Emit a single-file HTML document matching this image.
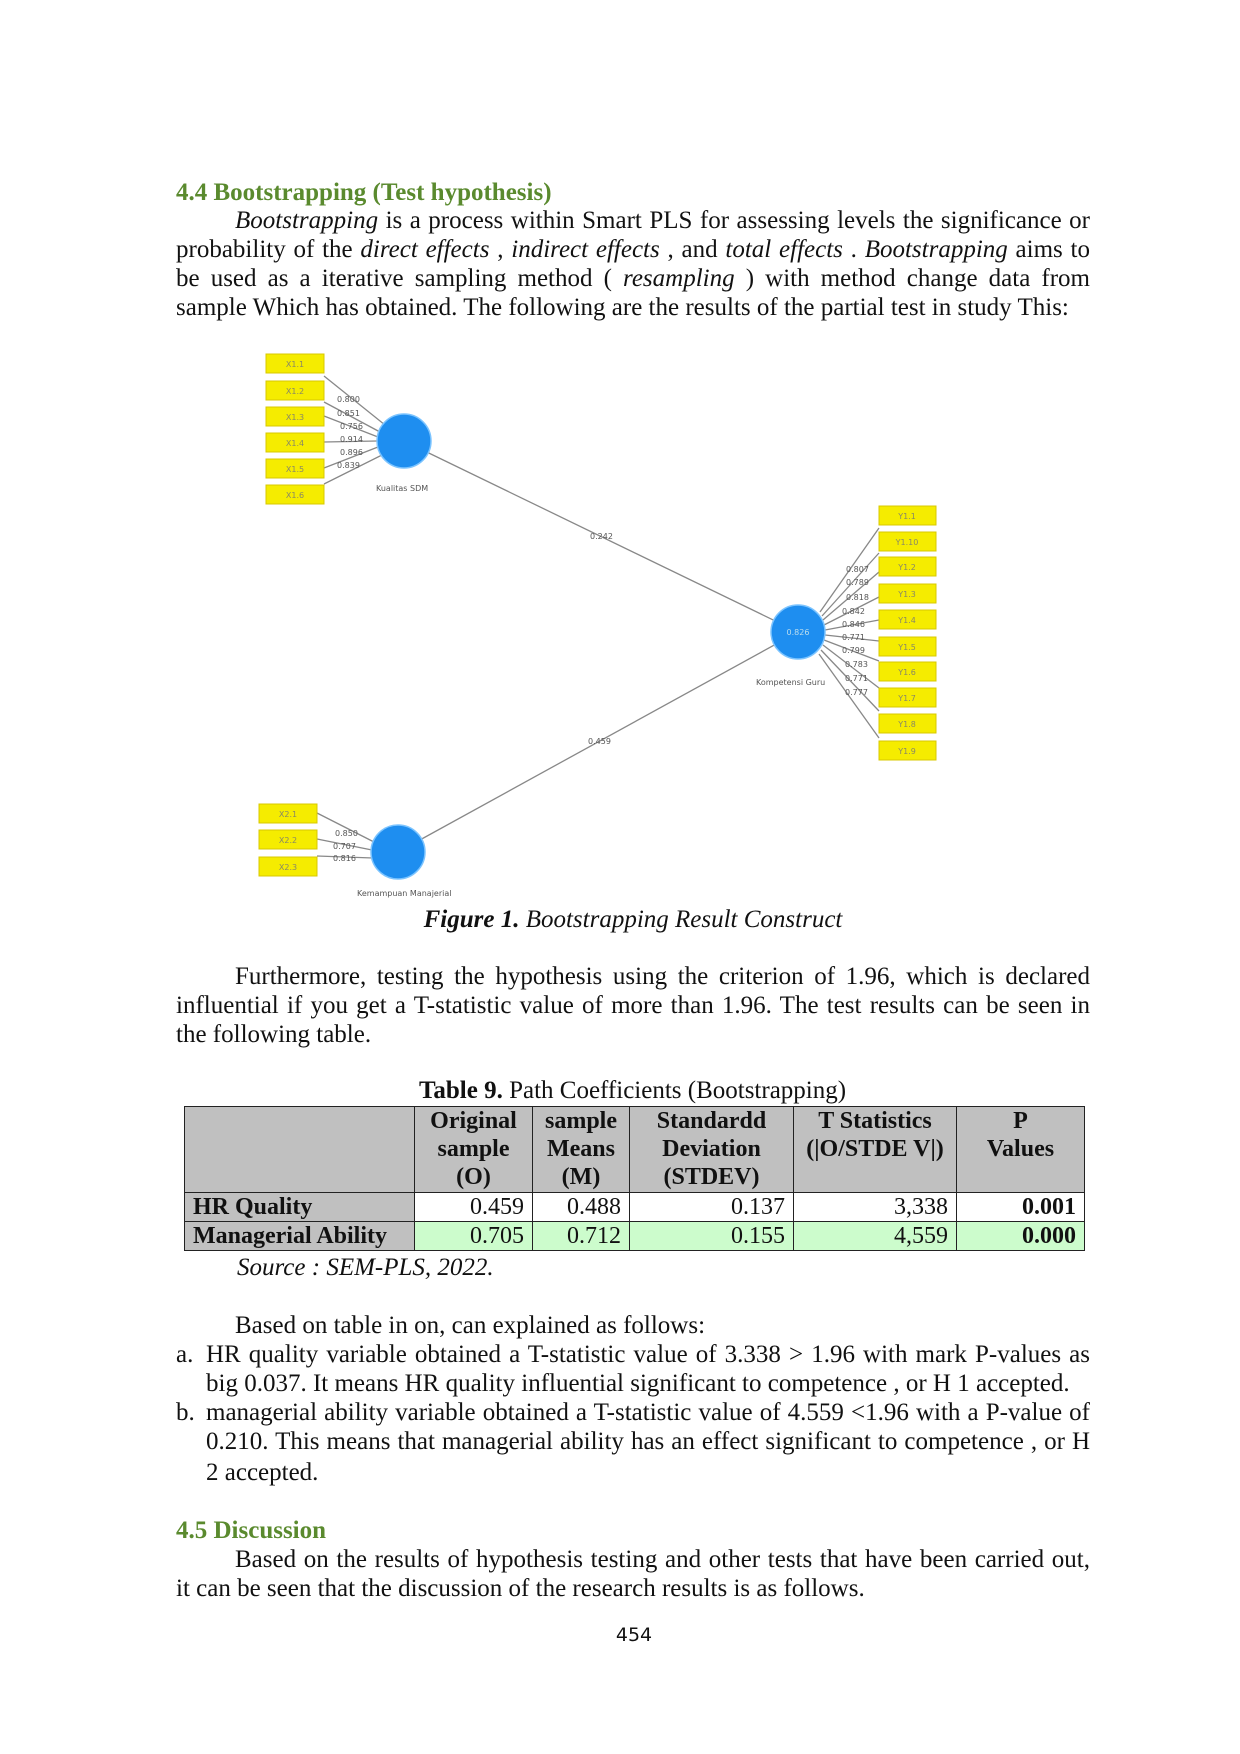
<!DOCTYPE html>
<html><head><meta charset="utf-8"><style>
body{margin:0;background:#fff;}
#p{position:relative;width:1240px;height:1754px;font-family:"Liberation Serif",serif;font-size:25px;color:#111;}
.l{position:absolute;left:176px;width:914px;white-space:nowrap;line-height:29px;}
.j{text-align:justify;text-align-last:justify;white-space:normal;}
.h{color:#5a8a2e;font-weight:bold;}
table{position:absolute;left:184px;top:1106px;width:901px;border-collapse:collapse;font-size:24px;line-height:28px;table-layout:fixed;}
td{border:1.5px solid #222;padding:0 8px;white-space:nowrap;overflow:hidden;}
th{border:1.5px solid #222;background:#c0c0c0;font-weight:bold;text-align:center;vertical-align:top;padding:0 2px;white-space:nowrap;overflow:hidden;}
.g{background:#c0c0c0;font-weight:bold;}
.gr{background:#ccfccc;}
.r{text-align:right;}
</style></head><body><div id="p">
<div class="l h" style="top:178px">4.4 Bootstrapping (Test hypothesis)</div>
<div class="l j" style="top:206px;padding-left:59px;width:855px"><i>Bootstrapping</i> is a process within Smart PLS for assessing levels the significance or</div>
<div class="l j" style="top:235px">probability of the <i>direct effects</i> , <i>indirect effects</i> , and <i>total effects</i> . <i>Bootstrapping</i> aims to</div>
<div class="l j" style="top:264px">be used as a iterative sampling method ( <i>resampling</i> ) with method change data from</div>
<div class="l" style="top:293px">sample Which has obtained. The following are the results of the partial test in study This:</div>

<svg style="position:absolute;left:0;top:0" width="1240" height="1000" font-family="DejaVu Sans,sans-serif">
<g stroke="#888" stroke-width="1.3">
<line x1="404" y1="441" x2="798" y2="632"/>
<line x1="398" y1="852" x2="798" y2="632"/>
<line x1="324" y1="376" x2="385" y2="425"/><line x1="324" y1="402" x2="380" y2="432"/><line x1="324" y1="416" x2="378" y2="437"/><line x1="324" y1="442" x2="377" y2="441"/><line x1="324" y1="468" x2="378" y2="447"/><line x1="324" y1="484" x2="382" y2="455"/>
<line x1="317" y1="813" x2="374" y2="842"/><line x1="317" y1="839" x2="372" y2="850"/><line x1="317" y1="856" x2="373" y2="858"/>
<line x1="820" y1="612" x2="879" y2="528"/><line x1="822" y1="616" x2="879" y2="553"/><line x1="823" y1="620" x2="879" y2="572"/><line x1="824" y1="625" x2="879" y2="597"/><line x1="825" y1="630" x2="879" y2="620"/><line x1="825" y1="635" x2="879" y2="641"/><line x1="824" y1="640" x2="879" y2="661"/><line x1="823" y1="645" x2="879" y2="688"/><line x1="821" y1="650" x2="879" y2="711"/><line x1="819" y1="654" x2="879" y2="738"/>
</g>
<g fill="#f5ec00" stroke="#d8c800" stroke-width="1">
<rect x="266" y="354" width="58" height="19"/><rect x="266" y="381" width="58" height="19"/><rect x="266" y="407" width="58" height="19"/><rect x="266" y="433" width="58" height="19"/><rect x="266" y="459" width="58" height="19"/><rect x="266" y="485" width="58" height="19"/>
<rect x="259" y="804" width="58" height="19"/><rect x="259" y="830" width="58" height="19"/><rect x="259" y="857" width="58" height="19"/>
<rect x="879" y="506" width="57" height="19"/><rect x="879" y="532" width="57" height="19"/><rect x="879" y="557" width="57" height="19"/><rect x="879" y="584" width="57" height="19"/><rect x="879" y="610" width="57" height="19"/><rect x="879" y="637" width="57" height="19"/><rect x="879" y="662" width="57" height="19"/><rect x="879" y="688" width="57" height="19"/><rect x="879" y="714" width="57" height="19"/><rect x="879" y="741" width="57" height="19"/>
</g>
<g font-size="8" fill="#886" text-anchor="middle">
<text x="295" y="367">X1.1</text><text x="295" y="394">X1.2</text><text x="295" y="420">X1.3</text><text x="295" y="446">X1.4</text><text x="295" y="472">X1.5</text><text x="295" y="498">X1.6</text>
<text x="288" y="817">X2.1</text><text x="288" y="843">X2.2</text><text x="288" y="870">X2.3</text>
<text x="907" y="519">Y1.1</text><text x="907" y="545">Y1.10</text><text x="907" y="570">Y1.2</text><text x="907" y="597">Y1.3</text><text x="907" y="623">Y1.4</text><text x="907" y="650">Y1.5</text><text x="907" y="675">Y1.6</text><text x="907" y="701">Y1.7</text><text x="907" y="727">Y1.8</text><text x="907" y="754">Y1.9</text>
</g>
<g font-size="8" fill="#555">
<text x="337" y="402">0.800</text><text x="337" y="416">0.851</text><text x="340" y="429">0.756</text><text x="340" y="442">0.914</text><text x="340" y="455">0.896</text><text x="337" y="468">0.839</text>
<text x="335" y="836">0.850</text><text x="333" y="849">0.707</text><text x="333" y="861">0.816</text>
<text x="846" y="572">0.807</text><text x="846" y="585">0.789</text><text x="846" y="600">0.818</text><text x="842" y="614">0.842</text><text x="842" y="627">0.846</text><text x="842" y="640">0.771</text><text x="842" y="653">0.799</text><text x="845" y="667">0.783</text><text x="845" y="681">0.771</text><text x="845" y="695">0.777</text>
<text x="590" y="539">0.242</text><text x="588" y="744">0.459</text>
<text x="376" y="491">Kualitas SDM</text><text x="756" y="685">Kompetensi Guru</text><text x="357" y="896">Kemampuan Manajerial</text>
</g>
<circle cx="404" cy="441" r="27" fill="#1e8ef0" stroke="#7cc4ff" stroke-width="1.5"/>
<circle cx="798" cy="632" r="27" fill="#1e8ef0" stroke="#7cc4ff" stroke-width="1.5"/>
<circle cx="398" cy="852" r="27" fill="#1e8ef0" stroke="#7cc4ff" stroke-width="1.5"/>
<text x="798" y="635" font-size="8" fill="#bde" text-anchor="middle">0.826</text>
</svg>

<div class="l" style="top:905px;text-align:center;width:1266px;left:0"><b><i>Figure 1.</i></b> <i>Bootstrapping Result Construct</i></div>
<div class="l j" style="top:962px;padding-left:59px;width:855px">Furthermore, testing the hypothesis using the criterion of 1.96, which is declared</div>
<div class="l j" style="top:991px">influential if you get a T-statistic value of more than 1.96. The test results can be seen in</div>
<div class="l" style="top:1020px">the following table.</div>
<div class="l" style="top:1076px;left:419px"><b>Table 9.</b> Path Coefficients (Bootstrapping)</div>
<table>
<tr style="height:86px"><th style="width:225px"></th><th style="width:113px">Original<br>sample<br>(O)</th><th style="width:92px">sample<br>Means<br>(M)</th><th style="width:159px">Standardd<br>Deviation<br>(STDEV)</th><th style="width:158px">T Statistics<br>(|O/STDE V|)</th><th>P<br>Values</th></tr>
<tr style="height:29px"><td class="g">HR Quality</td><td class="r">0.459</td><td class="r">0.488</td><td class="r">0.137</td><td class="r">3,338</td><td class="r"><b>0.001</b></td></tr>
<tr style="height:29px"><td class="g">Managerial Ability</td><td class="r gr">0.705</td><td class="r gr">0.712</td><td class="r gr">0.155</td><td class="r gr">4,559</td><td class="r gr"><b>0.000</b></td></tr>
</table>
<div class="l" style="top:1253px;left:237px"><i>Source : SEM-PLS, 2022.</i></div>
<div class="l" style="top:1311px;left:235px">Based on table in on, can explained as follows:</div>
<div class="l" style="top:1340px">a.</div>
<div class="l j" style="top:1340px;left:206px;width:884px">HR quality variable obtained a T-statistic value of 3.338 &gt; 1.96 with mark P-values as</div>
<div class="l" style="top:1369px;left:206px">big 0.037. It means HR quality influential significant to competence , or H 1 accepted.</div>
<div class="l" style="top:1398px">b.</div>
<div class="l j" style="top:1398px;left:206px;width:884px">managerial ability variable obtained a T-statistic value of 4.559 &lt;1.96 with a P-value of</div>
<div class="l j" style="top:1427px;left:206px;width:884px">0.210. This means that managerial ability has an effect significant to competence , or H</div>
<div class="l" style="top:1458px;left:206px">2 accepted.</div>
<div class="l h" style="top:1516px">4.5 Discussion</div>
<div class="l j" style="top:1545px;padding-left:59px;width:855px">Based on the results of hypothesis testing and other tests that have been carried out,</div>
<div class="l" style="top:1574px">it can be seen that the discussion of the research results is as follows.</div>
<div class="l" style="top:1621px;left:0;width:1268px;text-align:center;font-family:'DejaVu Sans',sans-serif;font-size:19px">454</div>
</div></body></html>
